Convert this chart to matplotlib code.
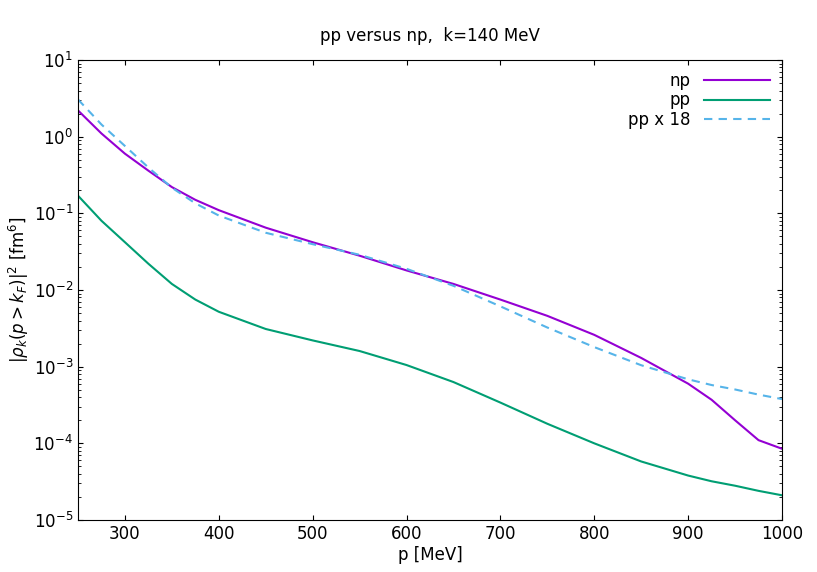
import numpy as np
import matplotlib.pyplot as plt

# values (log scale)
p_mev = [250, 275, 300, 325, 350, 375, 400, 450, 500, 550, 600, 650, 700,
         750, 800, 850, 900, 925, 950, 975, 1000]
np_vals = [2.2, 1.1, 0.6, 0.36, 0.22, 0.15, 0.11, 0.065, 0.042, 0.028,
           0.018, 0.012, 0.0075, 0.0046, 0.0026, 0.0013, 0.0006, 0.00037,
           0.0002, 0.00011, 0.000085]
pp_vals = [0.17, 0.08, 0.042, 0.022, 0.012, 0.0075, 0.0052, 0.0031, 0.0022,
           0.0016, 0.00105, 0.00063, 0.00034, 0.00018, 0.0001, 0.000058,
           0.000038, 0.000032, 0.000028, 0.000024, 0.000021]
scale = 18

plt.rcParams['font.family'] = 'DejaVu Sans'
plt.rcParams['font.size'] = 12
fig = plt.figure(figsize=(8.17, 5.72), dpi=100)
ax = fig.add_axes([78/817, 52/572, 704/817, 460/572])

ax.plot(p_mev, np_vals, color='#9400d3', lw=1.5, label='np')
ax.plot(p_mev, pp_vals, color='#009e73', lw=1.5, label='pp')
ax.plot(p_mev, np.array(pp_vals) * scale, color='#56b4e9', lw=1.5,
        ls=(0, (4, 3)), label='pp x 18')

ax.set_yscale('log')
ax.set_xlim(250, 1000)
ax.set_ylim(1e-5, 1e1)
ax.set_xticks(range(300, 1001, 100))
ax.tick_params(direction='in', which='both', top=True, right=True)
ax.set_xlabel('p [MeV]', labelpad=2)
ax.set_ylabel(r'$|\rho_k(p>k_F)|^2$ [fm$^6$]', labelpad=2)
ax.set_title('pp versus np,  k=140 MeV', fontsize=12, pad=14)
leg = ax.legend(loc='upper right', frameon=False, markerfirst=False,
                handlelength=4, labelspacing=0.1, borderaxespad=0.3)
plt.savefig('out.png')
